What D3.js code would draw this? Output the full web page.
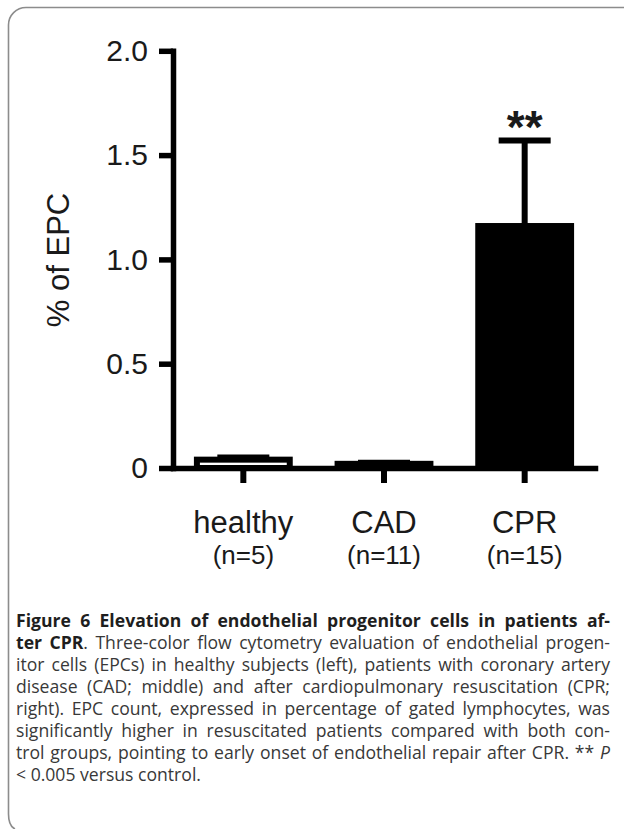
<!DOCTYPE html>
<html>
<head>
<meta charset="utf-8">
<script src="https://cdn.jsdelivr.net/npm/d3@7"></script>
<style>
  body { margin: 0; background: #fff; }
  svg { display: block; }
</style>
</head>
<body>
<div class="chart"></div>
<script>
// data
const categories = ['healthy', 'CAD', 'CPR'];
const groupSizes = ['(n=5)', '(n=11)', '(n=15)'];
const means = [0.04, 0.02, 1.16];
const errors = [0.01, 0.005, 0.41];
const marks = ['', '', '**'];
const yTicks = [0, 0.5, 1.0, 1.5, 2.0];
const barFills = ['#fff', '#fff', '#000'];

// caption lines (each line = list of [style, text])
const captionLines = [
  [['b', 'Figure 6 Elevation of endothelial progenitor cells in patients af-']],
  [['b', 'ter CPR'], ['r', '. Three-color flow cytometry evaluation of endothelial progen-']],
  [['r', 'itor cells (EPCs) in healthy subjects (left), patients with coronary artery']],
  [['r', 'disease (CAD; middle) and after cardiopulmonary resuscitation (CPR;']],
  [['r', 'right). EPC count, expressed in percentage of gated lymphocytes, was']],
  [['r', 'significantly higher in resuscitated patients compared with both con-']],
  [['r', 'trol groups, pointing to early onset of endothelial repair after CPR. ** '], ['i', 'P']],
  [['r', '< 0.005 versus control.']]
];

const W = 624, H = 829;
const svg = d3.select('.chart').append('svg')
  .attr('width', W)
  .attr('height', H);

// frame round the figure (cut off at right and bottom)
svg.append('path')
  .attr('d', 'M15,829 Q8.5,826 8.5,814 V25 A17.5,17.5 0 0 1 26,7.5 H624')
  .attr('fill', 'none')
  .attr('stroke', '#8c8c8c')
  .attr('stroke-width', 1.6);

const font = '"Liberation Sans", Arial, sans-serif';
const lw = 5.5;

const y = d3.scaleLinear().domain([0, 2]).range([468, 50.8]);
const x = d3.scaleBand().domain(categories).range([173, 595])
  .paddingInner(0.34).paddingOuter(0.17);

// y axis
const yAxis = svg.append('g')
  .attr('transform', 'translate(173,0)')
  .call(d3.axisLeft(y).tickValues(yTicks).tickSize(14).tickSizeOuter(0).tickPadding(11)
    .tickFormat(d => d === 0 ? '0' : d3.format('.1f')(d)));
yAxis.select('.domain').attr('stroke', '#000').attr('stroke-width', lw).attr('stroke-linecap', 'square');
yAxis.selectAll('.tick line').attr('stroke', '#000').attr('stroke-width', lw);
yAxis.selectAll('.tick text')
  .attr('font-family', font).attr('font-size', 30).attr('fill', '#1a1a1a');

// bars
svg.append('g').selectAll('rect')
  .data(categories)
  .join('rect')
  .attr('x', d => x(d))
  .attr('y', (d, i) => y(means[i]))
  .attr('width', x.bandwidth())
  .attr('height', (d, i) => y(0) - y(means[i]))
  .attr('fill', (d, i) => barFills[i])
  .attr('stroke', '#000')
  .attr('stroke-width', 6);

// error bars (upper only)
const capW = 52;
const eb = svg.append('g').selectAll('g')
  .data(categories)
  .join('g');
eb.append('line')
  .attr('x1', d => x(d) + x.bandwidth() / 2)
  .attr('x2', d => x(d) + x.bandwidth() / 2)
  .attr('y1', (d, i) => y(means[i]))
  .attr('y2', (d, i) => y(means[i] + errors[i]))
  .attr('stroke', '#000').attr('stroke-width', 6);
eb.append('line')
  .attr('x1', d => x(d) + x.bandwidth() / 2 - capW / 2)
  .attr('x2', d => x(d) + x.bandwidth() / 2 + capW / 2)
  .attr('y1', (d, i) => y(means[i] + errors[i]))
  .attr('y2', (d, i) => y(means[i] + errors[i]))
  .attr('stroke', '#000').attr('stroke-width', 6);

// significance stars
eb.append('text')
  .text((d, i) => marks[i])
  .attr('x', d => x(d) + x.bandwidth() / 2)
  .attr('y', (d, i) => y(means[i] + errors[i]) + 3)
  .attr('text-anchor', 'middle')
  .attr('font-family', font)
  .attr('font-weight', 'bold')
  .attr('font-size', 46)
  .attr('fill', '#1a1a1a');

// x axis
const xAxis = svg.append('g')
  .attr('transform', 'translate(0,468)')
  .call(d3.axisBottom(x).tickSize(15).tickSizeOuter(0));
xAxis.select('.domain').attr('stroke', '#000').attr('stroke-width', lw).attr('stroke-linecap', 'square');
xAxis.selectAll('.tick line').attr('stroke', '#000').attr('stroke-width', 6);
const xt = xAxis.selectAll('.tick text')
  .text(null)
  .attr('y', 0).attr('dy', null)
  .attr('font-family', font).attr('fill', '#1a1a1a');
xt.append('tspan').attr('x', 0).attr('y', 65).attr('font-size', 31).text(d => d);
xt.append('tspan').attr('x', 0).attr('y', 96).attr('font-size', 26)
  .text(d => groupSizes[categories.indexOf(d)]);

// y label
svg.append('text')
  .text('% of EPC')
  .attr('transform', 'translate(69,260) rotate(-90)')
  .attr('text-anchor', 'middle')
  .attr('font-family', font)
  .attr('font-size', 31)
  .attr('fill', '#1a1a1a');

// caption, justified between x=16 and x=610
const capLeft = 16, capRight = 610;
captionLines.forEach((segs, i) => {
  const t = svg.append('text')
    .attr('x', capLeft)
    .attr('y', 627 + i * 22)
    .attr('font-family', '"Open Sans", "Noto Sans", sans-serif')
    .attr('font-size', 17.6)
    .attr('fill', '#383838');
  segs.forEach(s => {
    const sp = t.append('tspan').text(s[1]);
    if (s[0] === 'b') sp.attr('font-weight', 'bold').attr('fill', '#1e1e1e');
    if (s[0] === 'i') sp.attr('font-style', 'italic');
  });
  if (i < captionLines.length - 1) {
    const natural = t.node().getComputedTextLength();
    const spaces = segs.map(s => s[1]).join('').split(' ').length - 1;
    t.attr('word-spacing', (capRight - capLeft - natural) / spaces);
  }
});
</script>
</body>
</html>
